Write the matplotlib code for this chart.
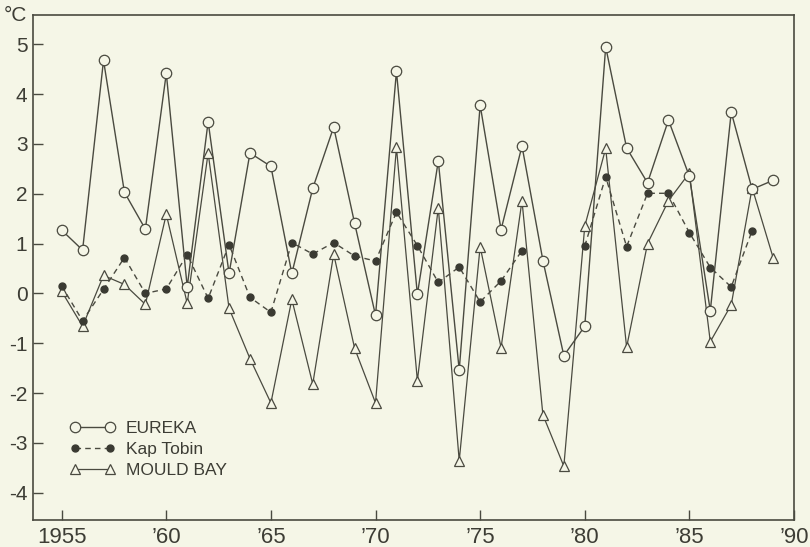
import numpy as np
import matplotlib.pyplot as plt

plt.rcParams['font.family'] = ['Liberation Sans', 'DejaVu Sans']

years = np.arange(1955, 1990)

eureka = [1.27, 0.87, 4.68, 2.03, 1.29, 4.42, 0.13, 3.45, 0.40, 2.82,
          2.55, 0.40, 2.11, 3.34, 1.41, -0.44, 4.46, -0.02, 2.66, -1.54,
          3.78, 1.28, 2.96, 0.66, -1.25, -0.66, 4.95, 2.92, 2.22, 3.48,
          2.35, -0.35, 3.64, 2.09, 2.27]

kap_tobin = [0.15, -0.55, 0.08, 0.72, 0.0, 0.09, 0.78, -0.10, 0.98, -0.08,
             -0.38, 1.02, 0.79, 1.02, 0.75, 0.65, 1.63, 0.96, 0.22, 0.53,
             -0.17, 0.25, 0.86, np.nan, np.nan, 0.95, 2.34, 0.94, 2.01, 2.01,
             1.22, 0.52, 0.13, 1.26, np.nan]

mould_bay = [0.04, -0.66, 0.36, 0.18, -0.22, 1.59, -0.20, 2.82, -0.30, -1.31,
             -2.20, -0.12, -1.82, 0.79, -1.10, -2.20, 2.93, -1.75, 1.72, -3.36,
             0.94, -1.09, 1.86, -2.44, -3.47, 1.35, 2.91, -1.08, 1.00, 1.86,
             2.42, -0.97, -0.23, 2.12, 0.72]

xtick_pos = [1955, 1960, 1965, 1970, 1975, 1980, 1985, 1990]
xtick_lab = ['1955', '\u201960', '\u201965', '\u201970', '\u201975', '\u201980', '\u201985', '\u201990']
ytick_pos = [5, 4, 3, 2, 1, 0, -1, -2, -3, -4]

bg = '#f5f6e7'
ink = '#4a4a40'
txt = '#3d3d35'

fig = plt.figure(figsize=(8.1, 5.47), dpi=100, facecolor=bg)
ax = fig.add_axes([33 / 810, 1 - 520 / 547, (794 - 33) / 810, (520 - 15) / 547])
ax.set_facecolor(bg)

ax.plot(years, mould_bay, color=ink, lw=0.9, marker='^', ms=7,
        mfc=bg, mec=ink, mew=0.9, label='MOULD BAY', zorder=2)
ax.plot(years, kap_tobin, color=ink, lw=1.0, ls=(0, (4, 3)), marker='o', ms=5,
        mfc='#3a3a32', mec='#3a3a32', label='Kap Tobin', zorder=3)
ax.plot(years, eureka, color=ink, lw=1.0, marker='o', ms=7.5,
        mfc=bg, mec=ink, mew=0.9, label='EUREKA', zorder=4)

ax.set_xlim(1953.63, 1990)
ax.set_ylim(-4.55, 5.59)
ax.set_xticks(xtick_pos)
ax.set_xticklabels(xtick_lab)
ax.set_yticks(ytick_pos)
ax.set_yticklabels([str(v) for v in ytick_pos])
ax.tick_params(direction='in', length=7, width=1.0, color=ink, labelcolor=txt)
ax.tick_params(axis='x', labelsize=16, pad=5)
ax.tick_params(axis='y', labelsize=15, pad=4)
for s in ax.spines.values():
    s.set_color(ink)
    s.set_linewidth(1.2)

fig.text(4 / 810, 1 - 6 / 547, '\u00b0C', fontsize=15, color=txt,
         ha='left', va='top')

h, l = ax.get_legend_handles_labels()
leg = ax.legend(h[::-1], l[::-1], loc='upper left', frameon=False,
                bbox_to_anchor=((70 - 33) / 761, (520 - 421) / 505), borderaxespad=0,
                borderpad=0, fontsize=12.5, numpoints=2, handlelength=2.6,
                handletextpad=0.6, labelspacing=0.33)
for t in leg.get_texts():
    t.set_color(txt)

fig.savefig('out.png', dpi=100, facecolor=bg)
